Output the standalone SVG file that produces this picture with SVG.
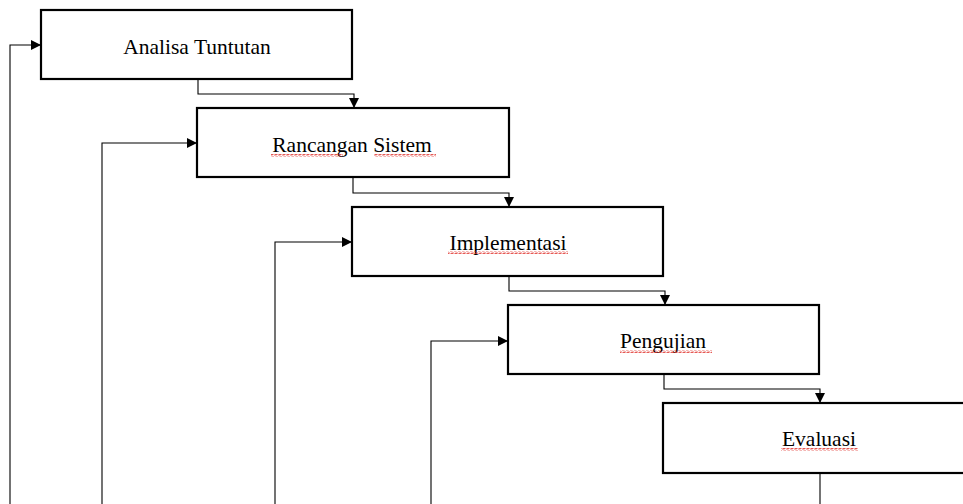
<svg xmlns="http://www.w3.org/2000/svg" width="963" height="504" viewBox="0 0 963 504">
<defs>
<marker id="ah" markerUnits="userSpaceOnUse" markerWidth="10" markerHeight="10" refX="10" refY="5" orient="auto">
<path d="M0,0 L10,5 L0,10 Z" fill="#000"/>
</marker>
<pattern id="sq" width="4" height="3" patternUnits="userSpaceOnUse">
<path d="M0,2.5 L1,0.5 L3,2.5 L4,0.5" fill="none" stroke="#e0302a" stroke-width="0.8"/>
</pattern>
</defs>
<style>
.box{fill:#fff;stroke:#000;stroke-width:2.2}
.lbl{font-family:"Liberation Serif","Times New Roman",serif;font-size:21.5px;fill:#000;text-anchor:middle}
.con{fill:none;stroke:#000;stroke-width:1.1}
</style>
<rect width="963" height="504" fill="#fff"/>
<g id="connectors">
<path class="con" d="M198,79 V94 H354 V108" marker-end="url(#ah)"/>
<path class="con" d="M353,177 V193 H509 V207" marker-end="url(#ah)"/>
<path class="con" d="M509,276 V291 H665 V305" marker-end="url(#ah)"/>
<path class="con" d="M664,374 V389 H820 V403" marker-end="url(#ah)"/>
<path class="con" d="M820,473 V504"/>
<path class="con" d="M10,504 V45 H41" marker-end="url(#ah)"/>
<path class="con" d="M102,504 V143 H197" marker-end="url(#ah)"/>
<path class="con" d="M275,504 V242 H352" marker-end="url(#ah)"/>
<path class="con" d="M431,504 V341 H508" marker-end="url(#ah)"/>
</g>
<g id="analisa">
<rect class="box" x="41" y="10" width="311" height="69"/>
<text class="lbl" x="197" y="54">Analisa Tuntutan</text>
</g>
<g id="rancangan">
<rect class="box" x="197" y="108" width="312" height="69"/>
<text class="lbl" x="352" y="152">Rancangan Sistem</text>
<rect x="271" y="154" width="72" height="3" fill="url(#sq)"/>
<rect x="374" y="154" width="62" height="3" fill="url(#sq)"/>
</g>
<g id="implementasi">
<rect class="box" x="352" y="207" width="311" height="69"/>
<text class="lbl" x="508" y="250">Implementasi</text>
<rect x="448" y="251" width="120" height="3" fill="url(#sq)"/>
</g>
<g id="pengujian">
<rect class="box" x="508" y="305" width="311" height="69"/>
<text class="lbl" x="663" y="348">Pengujian</text>
<rect x="620" y="350" width="92" height="3" fill="url(#sq)"/>
</g>
<g id="evaluasi">
<rect class="box" x="663" y="403" width="311" height="70"/>
<text class="lbl" x="819" y="446">Evaluasi</text>
<rect x="781" y="448" width="77" height="3" fill="url(#sq)"/>
</g>
</svg>
